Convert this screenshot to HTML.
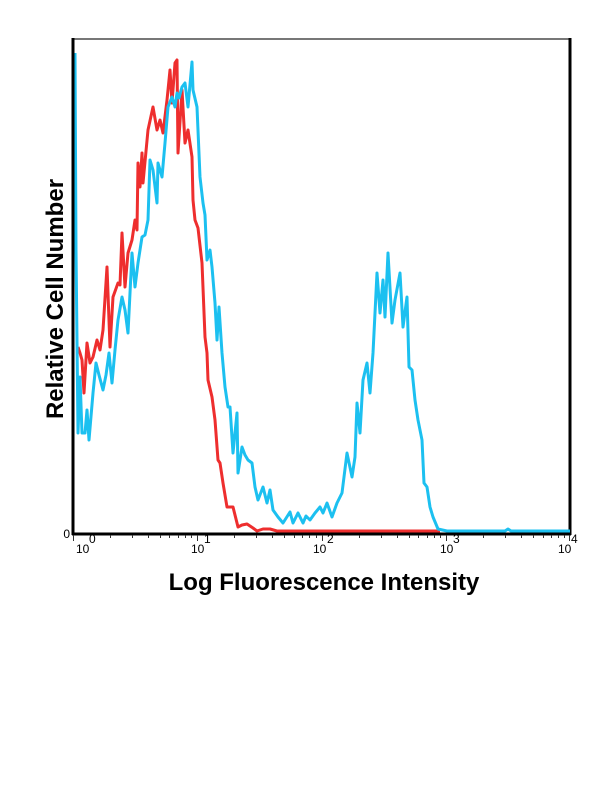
<!DOCTYPE html>
<html>
<head>
<meta charset="utf-8">
<style>
  html,body{margin:0;padding:0;background:#fff;}
  svg{display:block;}
  text{font-family:"Liberation Sans",Arial,sans-serif;fill:#000;}
</style>
</head>
<body>
<svg width="612" height="792" viewBox="0 0 612 792" xmlns="http://www.w3.org/2000/svg">
  <rect x="0" y="0" width="612" height="792" fill="#fff"/>

  <!-- frame -->
  <line x1="73" y1="39" x2="571" y2="39" stroke="#777" stroke-width="2"/>
  <line x1="570" y1="38" x2="570" y2="535" stroke="#000" stroke-width="3"/>

  <!-- red series -->
  <polyline fill="none" stroke="#EE2E2E" stroke-width="3" stroke-linejoin="round" points="
    78,347 80,353 82,360 84,393 87,343 90,363 93,357 97,340 100,350 103,330 107,267 110,347 113,297
    118,283 120,285 122,233 125,287 128,253 132,240 135,220 137,230 138,163 140,187 142,153 143,183
    148,130 153,107 157,130 160,120 163,133 167,100 170,70 172,103 175,63 177,60 178,153 182,90
    185,143 188,130 192,157 193,200 195,220 198,228 202,263 205,337 207,353 208,380 212,397 215,420
    218,460 220,463 223,483 227,507 233,507 238,527 242,525 247,524 253,528 257,531 263,529 270,529
    277,531 283,531 440,531"/>

  <!-- blue series -->
  <polyline fill="none" stroke="#1CC0F0" stroke-width="3" stroke-linejoin="round" points="
    75,53 76,250 78,433 80,377 82,433 85,433 87,410 89,440 93,393 96,363 99,375 103,390 106,375
    109,353 112,383 115,350 118,320 122,297 125,310 128,333 132,253 135,287 138,263 142,237 145,235
    148,220 150,160 153,170 157,203 158,163 162,177 165,143 168,107 172,97 175,107 177,93 179,98
    182,87 185,83 188,107 192,62 193,90 197,107 200,177 203,203 205,215 207,260 210,250 212,267
    215,303 217,340 219,307 222,353 225,387 228,407 230,407 233,453 237,413 238,473 242,447 245,455
    248,460 252,463 255,487 258,500 263,487 267,503 270,490 273,510 278,517 283,523 290,512 293,523
    298,513 303,523 306,516 310,520 315,513 320,507 323,513 327,503 332,517 337,503 342,493 347,453
    352,477 355,457 357,403 360,433 363,380 367,363 370,393 373,353 377,273 380,313 383,280 385,317
    388,253 392,323 395,300 400,273 403,327 407,297 409,367 412,370 415,400 418,420 422,440 424,483
    427,487 430,507 433,517 438,529 447,531 460,531 505,531 508,529 511,531 570,531"/>

  <!-- axes -->
  <line x1="73" y1="38" x2="73" y2="535" stroke="#000" stroke-width="3"/>
  <line x1="72" y1="534" x2="571" y2="534" stroke="#000" stroke-width="3"/>

  <!-- ticks -->
  <g stroke="#333" stroke-width="1">
    <line x1="73.5" y1="535" x2="73.5" y2="541"/>
    <line x1="197.5" y1="535" x2="197.5" y2="541"/>
    <line x1="322.5" y1="535" x2="322.5" y2="541"/>
    <line x1="446.5" y1="535" x2="446.5" y2="541"/>
    <line x1="569.5" y1="535" x2="569.5" y2="541"/>
    <line x1="110.5" y1="535" x2="110.5" y2="538"/><line x1="132.5" y1="535" x2="132.5" y2="538"/>
    <line x1="148.5" y1="535" x2="148.5" y2="538"/><line x1="160.5" y1="535" x2="160.5" y2="538"/>
    <line x1="169.5" y1="535" x2="169.5" y2="538"/><line x1="178.5" y1="535" x2="178.5" y2="538"/>
    <line x1="185.5" y1="535" x2="185.5" y2="538"/><line x1="191.5" y1="535" x2="191.5" y2="538"/>
    <line x1="234.5" y1="535" x2="234.5" y2="538"/><line x1="256.5" y1="535" x2="256.5" y2="538"/>
    <line x1="272.5" y1="535" x2="272.5" y2="538"/><line x1="284.5" y1="535" x2="284.5" y2="538"/>
    <line x1="294.5" y1="535" x2="294.5" y2="538"/><line x1="302.5" y1="535" x2="302.5" y2="538"/>
    <line x1="309.5" y1="535" x2="309.5" y2="538"/><line x1="316.5" y1="535" x2="316.5" y2="538"/>
    <line x1="359.5" y1="535" x2="359.5" y2="538"/><line x1="381.5" y1="535" x2="381.5" y2="538"/>
    <line x1="397.5" y1="535" x2="397.5" y2="538"/><line x1="409.5" y1="535" x2="409.5" y2="538"/>
    <line x1="418.5" y1="535" x2="418.5" y2="538"/><line x1="427.5" y1="535" x2="427.5" y2="538"/>
    <line x1="434.5" y1="535" x2="434.5" y2="538"/><line x1="440.5" y1="535" x2="440.5" y2="538"/>
    <line x1="483.5" y1="535" x2="483.5" y2="538"/><line x1="505.5" y1="535" x2="505.5" y2="538"/>
    <line x1="521.5" y1="535" x2="521.5" y2="538"/><line x1="533.5" y1="535" x2="533.5" y2="538"/>
    <line x1="543.5" y1="535" x2="543.5" y2="538"/><line x1="551.5" y1="535" x2="551.5" y2="538"/>
    <line x1="558.5" y1="535" x2="558.5" y2="538"/><line x1="564.5" y1="535" x2="564.5" y2="538"/>
  </g>

  <!-- tick labels -->
  <text x="70" y="538" font-size="12" text-anchor="end">0</text>
  <g font-size="12">
    <text x="76" y="553">10</text><text x="89" y="543">0</text>
    <text x="191" y="553">10</text><text x="204" y="543">1</text>
    <text x="313" y="553">10</text><text x="327" y="543">2</text>
    <text x="440" y="553">10</text><text x="453" y="543">3</text>
    <text x="558" y="553">10</text><text x="571" y="543">4</text>
  </g>

  <!-- axis titles -->
  <text x="324" y="590" font-size="24" font-weight="bold" text-anchor="middle">Log Fluorescence Intensity</text>
  <text transform="translate(63,299) rotate(-90)" font-size="24" font-weight="bold" text-anchor="middle">Relative Cell Number</text>
</svg>
</body>
</html>
